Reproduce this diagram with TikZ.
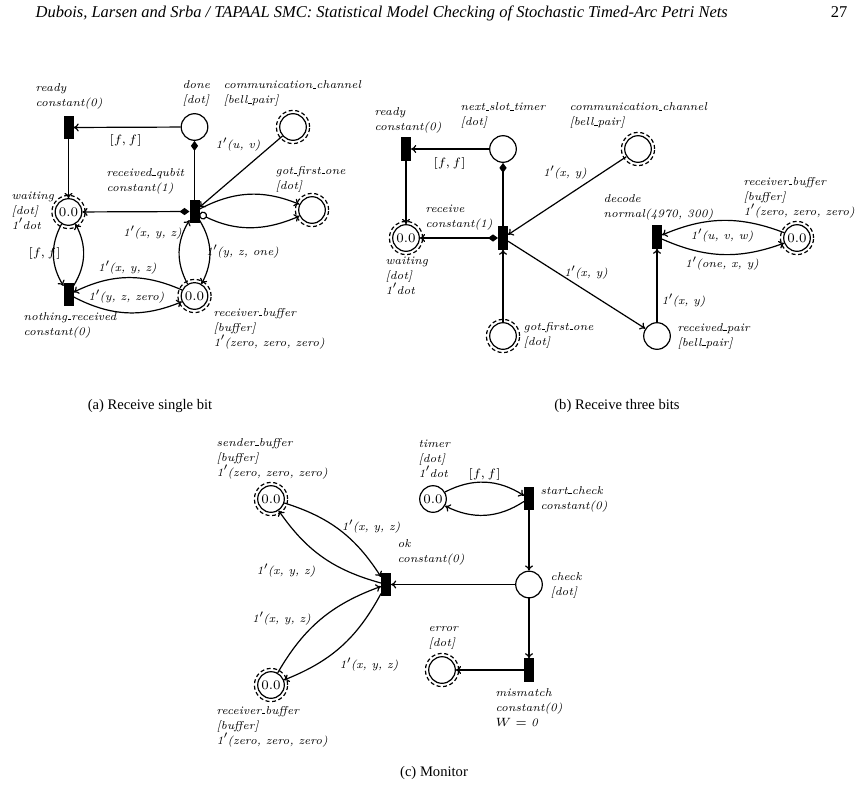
\documentclass[tikz,border=0pt]{standalone}
\usepackage{fontspec}
\newfontfamily\timesf{Liberation Serif}
\usetikzlibrary{arrows.meta,shapes.geometric}
\newcommand{\lab}{\fontsize{5.7}{7.5}\selectfont}
\newcommand{\tok}{\fontsize{6.6}{7.5}\selectfont}
\newcommand{\us}{\kern.06em\vbox{\hrule width.3em}}
\newcommand{\pr}{$'$\kern-0.6pt}
\newcommand{\arcl}[1]{\textit{1}\pr\textit{(#1)}}
\begin{document}
\begin{tikzpicture}[x=0.5pt,y=-0.5pt,
  >={To[length=2.6pt,width=4pt]},
  every path/.style={line width=0.6pt},
  place/.style={circle,draw,minimum size=13.3pt,inner sep=0pt,font=\tok},
  tr/.style={rectangle,draw,fill=black,minimum width=4.4pt,minimum height=11pt,inner sep=0pt},
  lbl/.style={anchor=base west,align=left,inner sep=0pt,font=\lab\itshape},
  al/.style={inner sep=0pt,font=\lab\itshape},
  ring/.style={dashed,dash pattern=on 2pt off 1.3pt},
  dia/.style={{Diamond[length=5pt,width=3.6pt]}-},
  diaar/.style={{Diamond[length=5pt,width=3.6pt]}->},
  inh/.style={{Circle[open,length=4pt]}->},
  capt/.style={font=\timesf\fontsize{7.3}{9}\selectfont,inner sep=0pt}]
\useasboundingbox (0,0) rectangle (865,792);
% header
\node[anchor=base west,inner sep=0pt,font=\timesf\itshape\fontsize{8.25}{10}\selectfont] (hdr) at (35,18)
 {Dubois, Larsen and Srba / TAPAAL SMC: Statistical Model Checking of Stochastic Timed-Arc Petri Nets};
\node[anchor=base east,inner sep=0pt,font=\timesf\fontsize{8.25}{10}\selectfont] (pg) at (848,18) {27};

% ---------------- (a)
\node[tr] (a-ready) at (68.5,127.5) {};
\node[place] (a-done) at (194.5,127) {};
\node[place] (a-comm) at (293,127) {};
\node[tr] (a-rq) at (194.5,211.5) {};
\node[place] (a-wait) at (68.5,212) {0.0};
\node[place] (a-gfo) at (312,210) {};
\node[tr] (a-nr) at (68.5,294.5) {};
\node[place] (a-rb) at (194.5,296) {0.0};
\foreach \n in {a-comm,a-wait,a-gfo,a-rb} \draw[ring] (\n) circle[radius=8.3pt];

\node[lbl] (la-ready) at (35,106) {ready\\constant(0)};
\node[lbl] (la-done) at (182,104) {done\\{[}dot{]}};
\node[lbl] (la-comm) at (223,104) {communication\us channel\\{[}bell\us pair{]}};
\node[lbl] (la-rq) at (106,191) {received\us qubit\\constant(1)};
\node[lbl] (la-gfo) at (275,189) {got\us first\us one\\{[}dot{]}};
\node[lbl] (la-wait) at (11,229) {waiting\\{[}dot{]}\\1\pr dot};
\node[lbl] (la-nr) at (23,335) {nothing\us received\\constant(0)};
\node[lbl] (la-rb) at (213,346) {receiver\us buffer\\{[}buffer{]}\\1\pr(zero, zero, zero)};

\draw[->] (a-done) -- (a-ready);
\draw[->] (a-ready) -- (a-wait);
\draw[dia] (a-done) -- (a-rq);
\draw[diaar] (a-rq) -- (a-wait);
\draw[->] (a-comm) -- (a-rq);
\draw[->] (a-rq) to[bend left=25] (a-gfo);
\draw[inh] (a-rq) to[bend right=25] (a-gfo);
\draw[->] (a-wait) to[bend right=30] (a-nr);
\draw[->] (a-nr) to[bend right=30] (a-wait);
\draw[->] (a-rb) to[bend right=25] (a-nr);
\draw[->] (a-nr) to[bend right=25] (a-rb);
\draw[->] (a-rb) to[bend left=30] (a-rq);
\draw[->] (a-rq) to[bend left=30] (a-rb);

\node[al] (ta1) at (125.5,140) {$[f,f]$};
\node[al] (ta2) at (238,145) {\arcl{u, v}};
\node[al] (ta3) at (44.5,253) {$[f,f]$};
\node[al] (ta4) at (127.5,268) {\arcl{x, y, z}};
\node[al] (ta5) at (126.5,297) {\arcl{y, z, zero}};
\node[al] (ta6) at (152.5,233) {\arcl{x, y, z}};
\node[al] (ta7) at (242.5,252) {\arcl{y, z, one}};

\node[capt] (capa) at (150,406) {(a) Receive single bit};

% ---------------- (b)
\node[tr] (b-ready) at (406,149) {};
\node[place] (b-nst) at (503,149) {};
\node[place] (b-comm) at (638,149) {};
\node[tr] (b-recv) at (503,238) {};
\node[place] (b-wait) at (406,238) {0.0};
\node[place] (b-gfo) at (503,336) {};
\node[tr] (b-dec) at (657,237) {};
\node[place] (b-rb) at (797,238) {0.0};
\node[place] (b-pair) at (657,336) {};
\foreach \n in {b-comm,b-wait,b-gfo,b-rb} \draw[ring] (\n) circle[radius=8.3pt];

\node[lbl] (lb-ready) at (374,130) {ready\\constant(0)};
\node[lbl] (lb-nst) at (460,126) {next\us slot\us timer\\{[}dot{]}};
\node[lbl] (lb-comm) at (569,126) {communication\us channel\\{[}bell\us pair{]}};
\node[lbl] (lb-recv) at (425,227) {receive\\constant(1)};
\node[lbl] (lb-wait) at (385,294) {waiting\\{[}dot{]}\\1\pr dot};
\node[lbl] (lb-gfo) at (523,345) {got\us first\us one\\{[}dot{]}};
\node[lbl] (lb-dec) at (603,217) {decode\\normal(4970, 300)};
\node[lbl] (lb-rb) at (743,215) {receiver\us buffer\\{[}buffer{]}\\1\pr(zero, zero, zero)};
\node[lbl] (lb-pair) at (677,346) {received\us pair\\{[}bell\us pair{]}};

\draw[->] (b-nst) -- (b-ready);
\draw[->] (b-ready) -- (b-wait);
\draw[dia] (b-nst) -- (b-recv);
\draw[diaar] (b-recv) -- (b-wait);
\draw[->] (b-gfo) -- (b-recv);
\draw[->] (b-comm) -- (b-recv);
\draw[->] (b-recv) -- (b-pair);
\draw[->] (b-pair) -- (b-dec);
\draw[->] (b-rb) to[bend right=22] (b-dec);
\draw[->] (b-dec) to[bend right=22] (b-rb);

\node[al] (tb1) at (449.5,163) {$[f,f]$};
\node[al] (tb2) at (565,173) {\arcl{x, y}};
\node[al] (tb3) at (722,236) {\arcl{u, v, w}};
\node[al] (tb4) at (722,264) {\arcl{one, x, y}};
\node[al] (tb5) at (586,273) {\arcl{x, y}};
\node[al] (tb6) at (683.5,301) {\arcl{x, y}};

\node[capt] (capb) at (617,406) {(b) Receive three bits};

% ---------------- (c)
\node[place] (c-sb) at (271,499) {0.0};
\node[tr] (c-ok) at (386,584.5) {};
\node[place] (c-rb) at (271,685) {0.0};
\node[place] (c-timer) at (433,499) {0.0};
\node[tr] (c-sc) at (529,498.5) {};
\node[place] (c-check) at (529,584.5) {};
\node[tr] (c-mm) at (529,670) {};
\node[place] (c-err) at (442,670) {};
\foreach \n in {c-sb,c-rb,c-err} \draw[ring] (\n) circle[radius=8.3pt];

\node[lbl] (lc-sb) at (216,476) {sender\us buffer\\{[}buffer{]}\\1\pr(zero, zero, zero)};
\node[lbl] (lc-ok) at (397,562) {ok\\constant(0)};
\node[lbl] (lc-rb) at (216,744) {receiver\us buffer\\{[}buffer{]}\\1\pr(zero, zero, zero)};
\node[lbl] (lc-timer) at (418,477) {timer\\{[}dot{]}\\1\pr dot};
\node[lbl] (lc-sc) at (540,509) {start\us check\\constant(0)};
\node[lbl] (lc-check) at (550,595) {check\\{[}dot{]}};
\node[lbl] (lc-err) at (428,646) {error\\{[}dot{]}};
\node[lbl] (lc-mm) at (495,726) {mismatch\\constant(0)\\$W = \mathit{0}$};

\draw[->] (c-sb) to[bend left=20] (c-ok);
\draw[->] (c-ok) to[bend left=20] (c-sb);
\draw[->] (c-rb) to[bend left=20] (c-ok);
\draw[->] (c-ok) to[bend left=20] (c-rb);
\draw[->] (c-timer) to[bend left=30] (c-sc);
\draw[->] (c-sc) to[bend left=30] (c-timer);
\draw[->] (c-sc) -- (c-check);
\draw[->] (c-check) -- (c-ok);
\draw[->] (c-check) -- (c-mm);
\draw[->] (c-mm) -- (c-err);

\node[al] (tc1) at (371,527) {\arcl{x, y, z}};
\node[al] (tc2) at (286,571) {\arcl{x, y, z}};
\node[al] (tc3) at (281.5,619) {\arcl{x, y, z}};
\node[al] (tc4) at (369,665) {\arcl{x, y, z}};
\node[al] (tc5) at (484.5,474) {$[f,f]$};

\node[capt] (capc) at (434,773) {(c) Monitor};
\end{tikzpicture}
\end{document}
